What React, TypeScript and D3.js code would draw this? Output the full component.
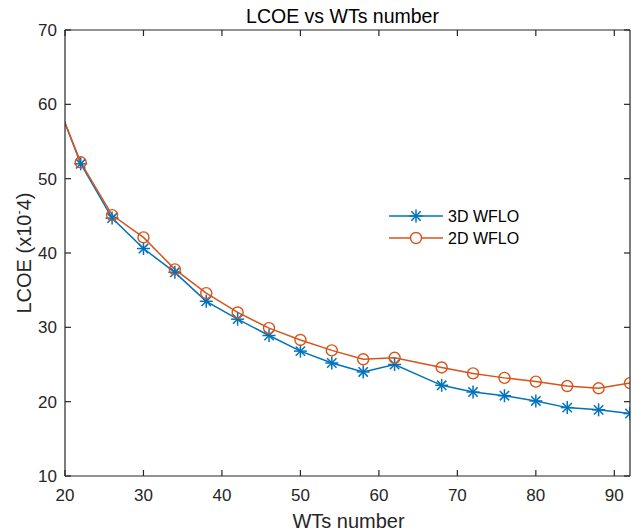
import React from "react";
import * as d3 from "d3";

const wtNumbers = [18, 22, 26, 30, 34, 38, 42, 46, 50, 54, 58, 62, 68, 72, 76, 80, 84, 88, 92];
const lcoe3D = [63.0, 52.0, 44.7, 40.6, 37.4, 33.5, 31.1, 28.9, 26.8, 25.2, 24.0, 25.0, 22.2, 21.3, 20.8, 20.1, 19.2, 18.9, 18.4];
const lcoe2D = [62.8, 52.2, 45.1, 42.1, 37.8, 34.6, 32.0, 29.9, 28.3, 26.9, 25.7, 25.9, 24.6, 23.8, 23.2, 22.7, 22.1, 21.8, 22.5];
const xTicks = [20, 30, 40, 50, 60, 70, 80, 90];
const yTicks = [10, 20, 30, 40, 50, 60, 70];
const seriesNames = ["3D WFLO", "2D WFLO"];

const W = 641, H = 532;
const L = 65, R = 630, T = 30, B = 476;
const AX = "#262626";
const BLUE = "#0072BD";
const ORANGE = "#D95319";
const FONT = "'Liberation Sans', Arial, Helvetica, sans-serif";

function Asterisk({ x, y, color }: { x: number; y: number; color: string }) {
  const a = 6.5;
  const d = a * 0.72;
  return (
    <g stroke={color} strokeWidth={1.5}>
      <line x1={x - a} y1={y} x2={x + a} y2={y} />
      <line x1={x} y1={y - a} x2={x} y2={y + a} />
      <line x1={x - d} y1={y - d} x2={x + d} y2={y + d} />
      <line x1={x - d} y1={y + d} x2={x + d} y2={y - d} />
    </g>
  );
}

export default function App() {
  const x = d3.scaleLinear().domain([20, 92]).range([L, R]);
  const y = d3.scaleLinear().domain([10, 70]).range([B, T]);
  const line = d3
    .line<number>()
    .x((_, i) => x(wtNumbers[i]))
    .y((v) => y(v));

  const inX = (v: number) => v >= 20 && v <= 92;
  const tick = 6;

  return (
    <div style={{ position: "fixed", left: 0, top: 0 }}>
      <svg width={W} height={H} style={{ display: "block", background: "#fff" }} fontFamily={FONT}>
        <defs>
          <clipPath id="plotClip">
            <rect x={L} y={T} width={R - L} height={B - T} />
          </clipPath>
        </defs>
        <rect x={0} y={0} width={W} height={H} fill="#fff" />

        {/* data */}
        <g clipPath="url(#plotClip)">
          <path d={line(lcoe3D) || ""} fill="none" stroke={BLUE} strokeWidth={1.5} />
          <path d={line(lcoe2D) || ""} fill="none" stroke={ORANGE} strokeWidth={1.5} />
          {lcoe3D.map((v, i) =>
            inX(wtNumbers[i]) ? <Asterisk key={"a" + i} x={x(wtNumbers[i])} y={y(v)} color={BLUE} /> : null
          )}
          {lcoe2D.map((v, i) =>
            inX(wtNumbers[i]) ? (
              <circle key={"c" + i} cx={x(wtNumbers[i])} cy={y(v)} r={5.5} fill="none" stroke={ORANGE} strokeWidth={1.4} />
            ) : null
          )}
        </g>

        {/* axes box */}
        <g stroke={AX} strokeWidth={1.2} fill="none">
          <line x1={L} y1={B} x2={R} y2={B} />
          <line x1={L} y1={T} x2={R} y2={T} />
          <line x1={L} y1={T} x2={L} y2={B} />
          <line x1={R} y1={T} x2={R} y2={B} />
          {xTicks.map((t) => (
            <g key={"xt" + t}>
              <line x1={x(t)} y1={B} x2={x(t)} y2={B - tick} />
              <line x1={x(t)} y1={T} x2={x(t)} y2={T + tick} />
            </g>
          ))}
          {yTicks.map((t) => (
            <g key={"yt" + t}>
              <line x1={L} y1={y(t)} x2={L + tick} y2={y(t)} />
              <line x1={R} y1={y(t)} x2={R - tick} y2={y(t)} />
            </g>
          ))}
        </g>

        {/* tick labels */}
        <g fill={AX} fontSize={17}>
          {xTicks.map((t) => (
            <text key={"xl" + t} x={x(t)} y={501} textAnchor="middle">
              {t}
            </text>
          ))}
          {yTicks.map((t) => (
            <text key={"yl" + t} x={L - 8} y={y(t) + 6} textAnchor="end">
              {t}
            </text>
          ))}
        </g>

        {/* title and axis labels */}
        <text x={(L + R) / 2 - 5} y={22.5} textAnchor="middle" fontSize={19.5} fill="#000">
          LCOE vs WTs number
        </text>
        <text x={(L + R) / 2 + 1} y={527.5} textAnchor="middle" fontSize={20} fill={AX}>
          WTs number
        </text>
        <text
          transform={`translate(31, ${(T + B) / 2}) rotate(-90)`}
          textAnchor="middle"
          fontSize={20}
          fill={AX}
        >
          LCOE (x10
          <tspan fontSize={13} dy={-8}>-</tspan>
          <tspan dy={8}>4)</tspan>
        </text>

        {/* legend */}
        <g fontSize={16} fill="#000">
          {seriesNames.map((name, i) => {
            const ly = 216 + i * 22;
            const color = i === 0 ? BLUE : ORANGE;
            return (
              <g key={name}>
                <line x1={389} y1={ly} x2={443} y2={ly} stroke={color} strokeWidth={1.5} />
                {i === 0 ? (
                  <Asterisk x={416} y={ly} color={color} />
                ) : (
                  <circle cx={416} cy={ly} r={5.5} fill="#fff" stroke={color} strokeWidth={1.4} />
                )}
                <text x={448} y={ly + 6}>{name}</text>
              </g>
            );
          })}
        </g>
      </svg>
    </div>
  );
}
